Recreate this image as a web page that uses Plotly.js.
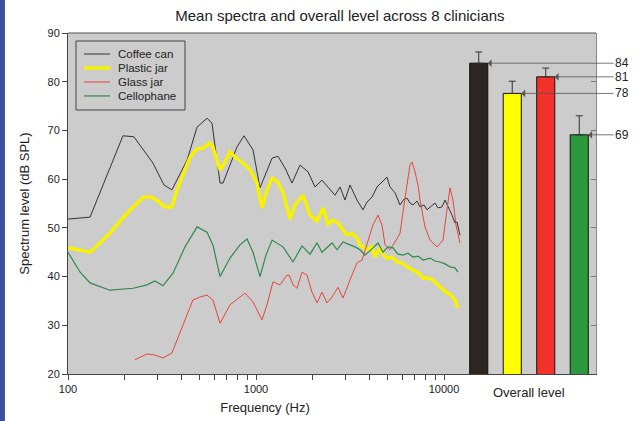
<!DOCTYPE html>
<html>
<head>
<meta charset="utf-8">
<script src="https://cdn.plot.ly/plotly-3.0.1.min.js"></script>
<style>html,body{margin:0;padding:0;background:#fff}#chart{width:639px;height:421px}</style>
</head>
<body>
<div id="chart"></div>
<script>
// ---- data ----
const seriesNames = ["Coffee can", "Plastic jar", "Glass jar", "Cellophane"];

const coffeeFreq = [100,131,196,224,283,324,357,430,486,549,583,644,668,792,863,964,1050,1144,1217,1309,1426,1554,1714,1891,2060,2244,2475,2632,2798,2974,3162,3445,3708,3894,4140,4401,4677,4975,5160,5488,5834,6128,6356,6592,6842,7185,7450,7830,8122,8630,8955,9290,9758,10123,10500,11030,11440,11730,12160];
const coffeeLevel = [51.8,52.2,68.9,68.7,63.3,58.8,57.8,63.9,70.7,72.5,71.5,59.2,59.2,66.6,68.9,66.0,58.2,61.9,64.3,64.7,62.3,59.2,62.9,61.5,58.4,59.8,57.8,56.7,58.4,55.7,58.8,55.7,53.7,55.3,56.3,58.4,59.4,60.4,58.4,57.2,54.7,55.9,56.1,55.1,54.7,55.5,54.3,54.7,53.7,54.7,55.1,54.1,54.3,55.7,54.5,52.6,51.0,51.2,48.5];

const plasticFreq = [100,131,167,206,251,280,309,328,357,380,446,486,522,569,590,644,684,727,773,842,929,1012,1076,1144,1217,1309,1392,1517,1613,1778,1937,2111,2272,2415,2568,2730,2902,3048,3240,3445,3574,3894,4140,4295,4566,4797,4975,5289,5623,5978,6356,6760,7185,7450,7727,8220,8741,9180,9521,10000,10370,10760,11030,11440,11870];
const plasticLevel = [45.9,45.0,48.9,53.0,56.3,56.3,55.1,54.3,54.3,57.8,64.5,66.2,66.4,67.4,66.6,61.9,63.5,65.6,64.5,63.5,61.9,59.2,54.1,57.8,60.2,59.4,57.2,51.8,54.7,56.7,52.6,51.4,54.1,50.8,51.6,51.0,49.6,48.5,48.9,47.9,46.5,45.5,46.1,44.0,45.9,44.2,43.8,44.0,43.0,42.8,42.0,41.5,40.9,40.5,39.7,39.7,39.3,38.5,37.9,37.2,36.6,36.4,35.8,35.2,33.5];

const glassFreq = [227,263,290,320,357,404,462,504,549,590,644,727,874,964,1076,1144,1231,1342,1462,1500,1573,1652,1757,1867,1986,2111,2244,2387,2537,2730,2902,3162,3445,3665,3894,4191,4456,4677,4855,5160,5488,5834,6128,6356,6592,6760,7010,7273,7450,7925,8424,9180,9878,10370,10760,11160,11580,12160];
const glassLevel = [22.9,24.1,23.9,23.3,24.3,29.6,35.2,35.8,36.2,35.2,30.4,34.2,36.6,34.8,31.1,34.2,38.9,38.3,40.3,40.3,38.3,37.6,40.9,40.3,36.8,34.6,36.8,34.6,35.8,37.8,35.6,39.3,42.8,43.4,46.5,50.6,52.6,50.6,46.5,45.5,47.1,48.9,54.7,59.2,62.9,63.5,61.5,58.8,55.7,50.2,47.5,46.1,47.5,53.7,58.2,55.7,50.6,46.9];

const celloFreq = [100,116,131,167,222,263,290,320,362,419,486,549,590,644,727,822,896,964,1050,1130,1217,1392,1573,1757,1937,2111,2244,2537,2697,2902,3162,3362,3574,3800,4191,4456,4737,5036,5356,5690,6050,6435,6842,7273,7727,8424,8955,9521,10123,10760,11440,11870];
const celloLevel = [45.0,40.9,38.7,37.2,37.6,38.3,39.1,38.1,40.7,46.1,50.2,49.1,46.5,40.0,43.8,46.5,47.7,45.0,40.0,44.4,47.5,46.1,43.0,46.3,44.6,46.9,45.0,46.9,45.5,47.1,46.5,46.1,45.5,44.4,45.9,46.9,45.0,46.1,45.9,44.6,44.4,44.8,44.0,44.2,43.4,43.8,43.2,43.0,42.6,42.0,41.8,40.9];

const overallLevels = [83.8, 77.6, 81.0, 69.1];
const overallErrors = [2.3, 2.5, 1.8, 3.9];
const overallLabels = ["84", "78", "81", "69"];
const overallTitle = "Overall level";

const xTickVals = [100,200,300,400,500,600,700,800,900,1000,2000,3000,4000,5000,6000,7000,8000,9000,10000];
const xTickText = ["100","","","","","","","","","1000","","","","","","","","","10000"];
const yTickVals = [20,30,40,50,60,70,80,90];

// ---- traces ----
const lineStyles = [
  {color:"#333333", width:1},
  {color:"#f7f200", width:3.5},
  {color:"#e5463d", width:1},
  {color:"#2f8a4c", width:1.2}
];
const xs = [coffeeFreq, plasticFreq, glassFreq, celloFreq];
const ys = [coffeeLevel, plasticLevel, glassLevel, celloLevel];
const traces = seriesNames.map((n,i)=>({
  type:"scatter", mode:"lines", name:n, x:xs[i], y:ys[i],
  line:lineStyles[i], xaxis:"x", yaxis:"y", showlegend:false
}));
const barColors = ["#2b2623", "#ffff00", "#f2322a", "#2a9a3c"];
traces.push({
  type:"bar", x:overallLevels.map((_,i)=>i), y:overallLevels, width:0.54,
  xaxis:"x2", yaxis:"y2", showlegend:false,
  marker:{color:barColors, line:{color:"#111", width:1}},
  error_y:{type:"data", symmetric:false, array:overallErrors, arrayminus:overallLevels.map(()=>0),
           color:"#333", thickness:1, width:3.5}
});

const annotations = overallLevels.map((v,i)=>({
  xref:"x2", yref:"y2", x:i+0.27, y:v, axref:"x2", ayref:"y2", ax:4.28, ay:v,
  text:overallLabels[i], showarrow:true, arrowhead:1, arrowsize:1.6, arrowwidth:0.8,
  arrowcolor:"#555", font:{size:12, color:"#222"}
}));
annotations.push({
  xref:"x2 domain", yref:"paper", x:0.5, y:-0.055, yanchor:"middle", text:overallTitle, showarrow:false,
  font:{size:13, color:"#222"}
});

// manual legend (compact, as in the original)
const legX0 = 0.0303, legX1 = 0.0795, legTextX = 0.0909, legTop = 0.9384, legStep = 0.041;
const shapes = [
  {type:"line", xref:"paper", yref:"paper", x0:0, x1:1, y0:1, y1:1, line:{color:"#555", width:1}},
  {type:"rect", xref:"paper", yref:"paper", x0:-0.1288, x1:-0.1194, y0:-0.14, y1:1.1,
   line:{width:0}, fillcolor:"#3d4f9e", layer:"below"},
  {type:"rect", xref:"paper", yref:"paper", x0:0.0152, x1:0.2216, y0:0.7742, y1:0.9765,
   line:{color:"#444", width:1}, fillcolor:"rgba(0,0,0,0)"}
];
seriesNames.forEach((n,i)=>{
  const yy = legTop - i*legStep;
  shapes.push({type:"line", xref:"paper", yref:"paper", x0:legX0, x1:legX1, y0:yy, y1:yy, line:lineStyles[i]});
  annotations.push({xref:"paper", yref:"paper", x:legTextX, y:yy, xanchor:"left", yanchor:"middle",
    text:n, showarrow:false, font:{size:11.5, color:"#222"}});
});

const axisFont = {family:"Liberation Sans, Arial, sans-serif", size:11, color:"#222"};
const layout = {
  width:639, height:421,
  margin:{l:68, r:43, t:33, b:47},
  paper_bgcolor:"#ffffff", plot_bgcolor:"#cccccc",
  font:{family:"Liberation Sans, Arial, sans-serif", color:"#222"},
  title:{text:"Mean spectra and overall level across 8 clinicians", x:0.532, xanchor:"center",
         y:0.962, yanchor:"middle", yref:"container", font:{size:15, color:"#222"}},
  showlegend:false,
  xaxis:{type:"log", domain:[0,0.7462], range:[2,4.0957], tickvals:xTickVals, ticktext:xTickText,
         ticks:"outside", ticklen:5, tickcolor:"#444", showgrid:false, zeroline:false,
         showline:true, linecolor:"#444", linewidth:1, tickfont:axisFont, anchor:"y",
         title:{text:"Frequency (Hz)", font:{size:13, color:"#222"}, standoff:8}},
  xaxis2:{domain:[0.7462,1], range:[-0.5,3.5], showticklabels:false, ticks:"", showgrid:false,
          zeroline:false, showline:true, linecolor:"#444", linewidth:1, anchor:"y2"},
  yaxis:{range:[20,90], tickvals:yTickVals, ticks:"outside", ticklen:5, tickcolor:"#444",
         showgrid:false, zeroline:false, showline:true, linecolor:"#444", linewidth:1,
         tickfont:axisFont, anchor:"x",
         title:{text:"Spectrum level (dB SPL)", font:{size:13, color:"#222"}, standoff:14}},
  yaxis2:{range:[20,90], tickvals:yTickVals, overlaying:"y", side:"right", anchor:"x2",
          ticks:"inside", ticklen:5, tickcolor:"#777", showticklabels:false, showgrid:false,
          zeroline:false, showline:true, linecolor:"#888", linewidth:1},
  shapes:shapes,
  annotations:annotations
};
Plotly.newPlot("chart", traces, layout, {staticPlot:true, displayModeBar:false});
</script>
</body>
</html>
